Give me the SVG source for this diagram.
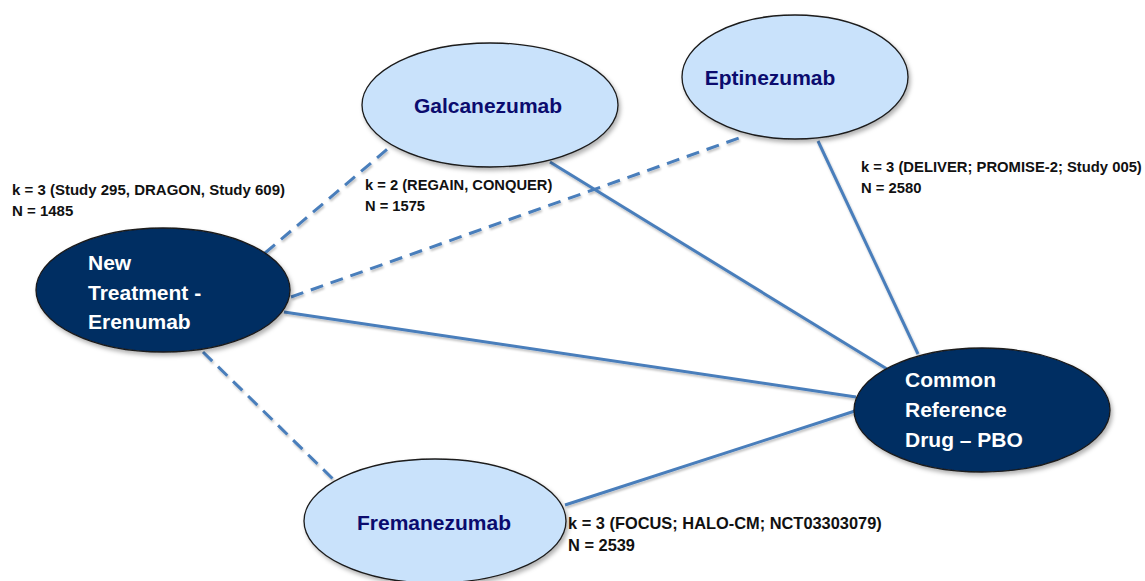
<svg xmlns="http://www.w3.org/2000/svg" width="1145" height="581" viewBox="0 0 1145 581">
<defs>
<filter id="sh" x="-10%" y="-10%" width="125%" height="130%">
<feDropShadow dx="2" dy="3" stdDeviation="2" flood-color="#000" flood-opacity="0.3"/>
</filter>
<filter id="lsh" x="-5%" y="-5%" width="110%" height="110%">
<feDropShadow dx="1" dy="2" stdDeviation="1" flood-color="#000" flood-opacity="0.25"/>
</filter>
</defs>
<style>
.light{fill:#c9e2fb;stroke:#1a1a1a;stroke-width:1.3}
.dark{fill:#022d62;stroke:#1a1a1a;stroke-width:1.3}
.lt{font-family:"Liberation Sans",Arial,sans-serif;font-weight:bold;font-size:21px;fill:#0b0b6e;text-anchor:middle}
.dt{font-family:"Liberation Sans",Arial,sans-serif;font-weight:bold;font-size:21px;fill:#ffffff}
.lab{font-family:"Liberation Sans",Arial,sans-serif;font-weight:bold;font-size:15px;fill:#111111}
.c{stroke:#4a7ebb;stroke-width:3;fill:none}
.d{stroke-dasharray:13 8}
</style>
<rect width="1145" height="581" fill="#ffffff"/>
<g id="connectors" filter="url(#lsh)">
<line class="c d" x1="265" y1="253" x2="391" y2="146"/>
<line class="c d" x1="291" y1="297" x2="739" y2="138"/>
<line class="c" x1="284" y1="312" x2="856" y2="397"/>
<line class="c" x1="550" y1="162" x2="887" y2="369"/>
<line class="c" x1="818" y1="141" x2="918" y2="354"/>
<line class="c d" x1="203" y1="352" x2="334" y2="480"/>
<line class="c" x1="565" y1="505" x2="858" y2="410"/>
</g>
<g id="galcanezumab">
<ellipse class="light" cx="490" cy="105" rx="128" ry="62" filter="url(#sh)"/>
<text class="lt" x="488" y="113">Galcanezumab</text>
</g>
<g id="eptinezumab">
<ellipse class="light" cx="795" cy="77" rx="113" ry="62" filter="url(#sh)"/>
<text class="lt" x="770" y="85">Eptinezumab</text>
</g>
<g id="erenumab">
<ellipse class="dark" cx="163" cy="290" rx="127" ry="62" filter="url(#sh)"/>
<text class="dt" x="88" y="270">New</text>
<text class="dt" x="88" y="300">Treatment -</text>
<text class="dt" x="88" y="329">Erenumab</text>
</g>
<g id="pbo">
<ellipse class="dark" cx="982" cy="410" rx="128" ry="62" filter="url(#sh)"/>
<text class="dt" x="905" y="387">Common</text>
<text class="dt" x="905" y="417">Reference</text>
<text class="dt" x="905" y="447">Drug – PBO</text>
</g>
<g id="fremanezumab">
<ellipse class="light" cx="435" cy="521" rx="131" ry="62" filter="url(#sh)"/>
<text class="lt" x="434" y="530">Fremanezumab</text>
</g>
<g id="labels">
<text class="lab" x="12" y="195">k = 3 (Study 295, DRAGON, Study 609)</text>
<text class="lab" x="12" y="216">N = 1485</text>
<text class="lab" x="365" y="190" style="font-size:14.7px">k = 2 (REGAIN, CONQUER)</text>
<text class="lab" x="365" y="211" style="font-size:14.7px">N = 1575</text>
<text class="lab" x="861" y="172" style="font-size:14.8px">k = 3 (DELIVER; PROMISE-2; Study 005)</text>
<text class="lab" x="861" y="193" style="font-size:14.8px">N = 2580</text>
<text class="lab" x="568" y="529" style="font-size:16.4px">k = 3 (FOCUS; HALO-CM; NCT03303079)</text>
<text class="lab" x="568" y="551" style="font-size:16.4px">N = 2539</text>
</g>
</svg>
